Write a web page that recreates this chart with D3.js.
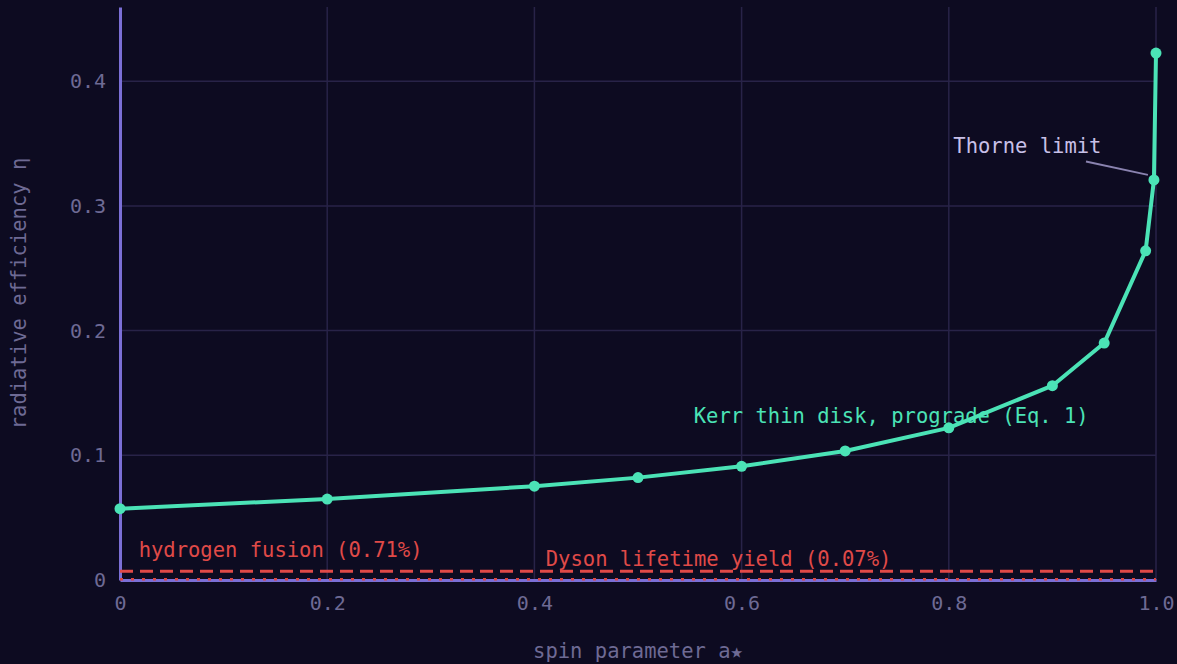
<!DOCTYPE html>
<html>
<head>
<meta charset="utf-8">
<script src="https://cdn.jsdelivr.net/npm/d3@7"></script>
<style>
  html, body { margin: 0; padding: 0; background: #0d0b21; }
  svg { display: block; }
  text { font-family: "DejaVu Sans Mono", "Liberation Mono", monospace; }
</style>
</head>
<body>
<svg id="chart"></svg>
<script>
// spin parameter a* and Kerr thin-disk radiative efficiency
const spins = [0, 0.2, 0.4, 0.5, 0.6, 0.7, 0.8, 0.9, 0.95, 0.99, 0.998, 1.0];
const efficiency = [0.0572, 0.0649, 0.0752, 0.0821, 0.0912, 0.1035, 0.1220, 0.1558, 0.1900, 0.2640, 0.3208, 0.4226];
const xTicks = [0, 0.2, 0.4, 0.6, 0.8, 1.0];
const yTicks = [0, 0.1, 0.2, 0.3, 0.4];
const refNames = ["hydrogen fusion (0.71%)", "Dyson lifetime yield (0.07%)"];
const refValues = [0.0071, 0.0007];

const W = 1177, H = 664;
const margin = { top: 7, right: 21, bottom: 84, left: 120 };
const width = W - margin.left - margin.right;
const height = H - margin.top - margin.bottom;
const fs = "20.5px";

const svg = d3.select("#chart").attr("width", W).attr("height", H);
svg.append("rect").attr("width", W).attr("height", H).attr("fill", "#0d0b21");
const g = svg.append("g").attr("transform", `translate(${margin.left},${margin.top})`);

const x = d3.scaleLinear().domain([0, 1]).range([0, width]);
const y = d3.scaleLinear().domain([0, 0.4595]).range([height, 0]);

// grid
g.append("g").selectAll("line").data(xTicks.slice(1)).enter().append("line")
  .attr("x1", d => x(d)).attr("x2", d => x(d)).attr("y1", 0).attr("y2", height)
  .attr("stroke", "#282348").attr("stroke-width", 1.5);
g.append("g").selectAll("line").data(yTicks.slice(1)).enter().append("line")
  .attr("x1", 0).attr("x2", width).attr("y1", d => y(d)).attr("y2", d => y(d))
  .attr("stroke", "#282348").attr("stroke-width", 1.5);

// axes
const xAxis = g.append("g").attr("transform", `translate(0,${height})`)
  .call(d3.axisBottom(x).tickValues(xTicks).tickSize(0).tickPadding(16)
    .tickFormat(d => d === 0 ? "0" : d3.format(".1f")(d)));
const yAxis = g.append("g")
  .call(d3.axisLeft(y).tickValues(yTicks).tickSize(0).tickPadding(14)
    .tickFormat(d => d === 0 ? "0" : d3.format(".1f")(d)));
[xAxis, yAxis].forEach(a => {
  a.select(".domain").attr("stroke", "#7b6fd6").attr("stroke-width", 3);
  a.selectAll("text").attr("fill", "#6e6a94").style("font-size", "20px")
    .style("font-family", "'DejaVu Sans Mono', monospace");
});

// reference lines
g.append("line").attr("x1", 0).attr("x2", width)
  .attr("y1", y(refValues[0])).attr("y2", y(refValues[0]))
  .attr("stroke", "#e04a48").attr("stroke-width", 3).attr("stroke-dasharray", "13,7");
g.append("line").attr("x1", 0).attr("x2", width)
  .attr("y1", y(refValues[1])).attr("y2", y(refValues[1]))
  .attr("stroke", "#d94545").attr("stroke-width", 2.5).attr("stroke-dasharray", "3,8");

g.append("text").attr("x", x(0.018)).attr("y", y(refValues[0]) - 14)
  .attr("fill", "#e04a48").style("font-size", fs).text(refNames[0]);
g.append("text").attr("x", x(0.411)).attr("y", y(refValues[1]) - 13)
  .attr("fill", "#e04a48").style("font-size", fs).text(refNames[1]);

// curve
const line = d3.line().x((d, i) => x(spins[i])).y(d => y(d));
g.append("path").datum(efficiency).attr("d", line)
  .attr("fill", "none").attr("stroke", "#4be3b6").attr("stroke-width", 4)
  .attr("stroke-linejoin", "round");
g.selectAll("circle.pt").data(efficiency).enter().append("circle")
  .attr("class", "pt")
  .attr("cx", (d, i) => x(spins[i])).attr("cy", d => y(d)).attr("r", 5.5)
  .attr("fill", "#4be3b6");

// annotations
g.append("text").attr("x", x(0.5538)).attr("y", y(0.1262))
  .attr("fill", "#4be3b6").style("font-size", fs).text("Kerr thin disk, prograde (Eq. 1)");
g.append("text").attr("x", x(0.8044)).attr("y", y(0.3422))
  .attr("fill", "#c8c0e8").style("font-size", fs).text("Thorne limit");
g.append("line")
  .attr("x1", x(0.9324)).attr("y1", y(0.3356))
  .attr("x2", x(spins[10]) - 6).attr("y2", y(efficiency[10]) - 5)
  .attr("stroke", "#8a83b0").attr("stroke-width", 1.8);

// axis titles
svg.append("text").attr("x", margin.left + width / 2).attr("y", 658)
  .attr("text-anchor", "middle").attr("fill", "#6e6a94").style("font-size", fs)
  .text("spin parameter a★");
svg.append("text")
  .attr("transform", `translate(26,${margin.top + height / 2}) rotate(-90)`)
  .attr("text-anchor", "middle").attr("fill", "#6e6a94").style("font-size", fs)
  .text("radiative efficiency η");
</script>
</body>
</html>
